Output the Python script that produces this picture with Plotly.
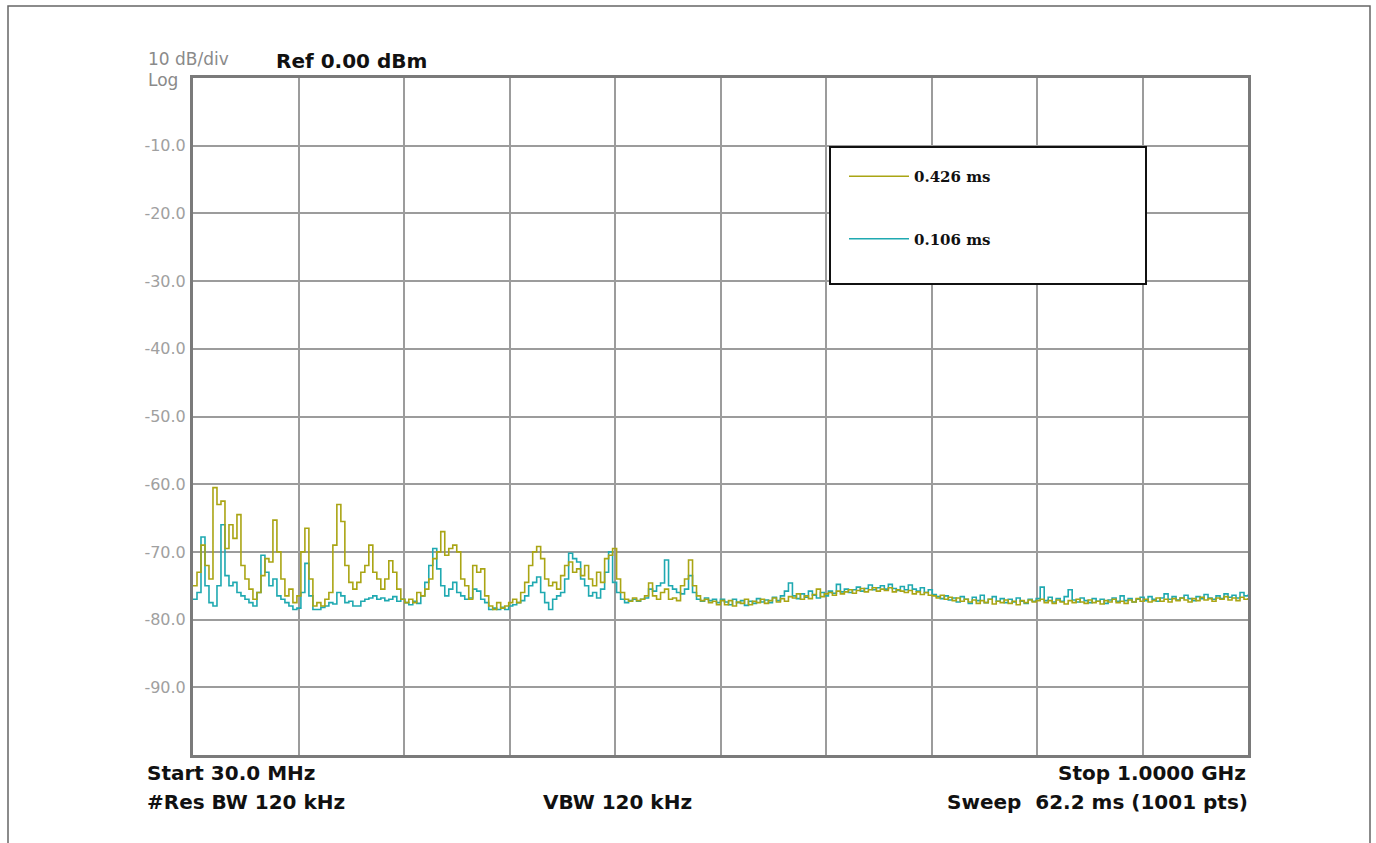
import numpy as np
import plotly.graph_objects as go

START_MHZ = 30.0
STOP_MHZ = 1000.0

# trace levels in dBm left to right (busy part, then flat part)
trace_426 = [
    -75, -73, -69, -72, -74, -60.5, -63, -62.5, -69.5, -66, -68, -64.5, -72, -74, -75.5, -77,
    -76, -73.5, -71, -71.5, -65.3, -70, -74, -76.5, -75.5, -77.5, -76.5, -70, -66.5, -74, -78, -77.5,
    -78, -77, -76, -69, -63, -65.5, -72, -74.5, -75.5, -74.5, -73, -72, -69, -73, -74, -75.5,
    -74, -71.3, -73, -75.5, -77, -77.5, -77, -77.5, -76, -76.5, -75.5, -74, -71, -70, -67, -70.5,
    -69.5, -69, -70, -74, -75, -77, -72, -73, -72.5, -76.5, -78, -78.5, -77.5, -78.3, -78, -77.5,
    -77, -77.5, -76, -74.5, -72, -70, -69.2, -71, -74, -75, -74.5, -75.5, -73.5, -72, -71.5, -73,
    -72.5, -73.5, -72, -74, -75, -73, -74.5, -71, -70.5, -69.5, -74, -76, -77, -77.3, -76.8, -77.2,
    -77, -76.5, -74.6, -76.5, -77, -76, -75.5, -77, -76.8, -77.2, -75, -74, -71.2, -75, -76.5, -77.2,
    -77, -77.5, -77.3, -77.8, -77.2,
    -77.8, -77.2, -78.0, -77.4, -77.6, -77.0, -77.8, -77.3, -77.5, -77.0, -77.6, -77.2, -76.8, -77.4,
    -76.9, -77.3, -76.6,
    -76.8, -76.2, -77.0, -76.5, -76.9, -76.3, -75.5, -76.6, -76.2,
    -76.0, -76.4, -75.8, -76.2, -75.9, -75.6, -76.1, -75.7, -75.4, -75.9, -75.6, -75.3, -75.8, -75.5,
    -75.7, -75.3, -75.9, -75.6, -75.8, -76.0, -75.7, -76.2, -75.9, -76.3, -76.0, -76.4,
    -76.5, -76.8, -76.4, -77.0, -76.7, -77.2, -76.8, -77.3, -77.0, -77.4, -77.1, -77.6, -77.2, -77.5,
    -77.0, -77.7, -77.3, -77.5, -77.1, -77.6, -77.3, -77.8, -77.2, -77.5, -77.1, -77.4, -77.2,
    -77.0, -77.5, -77.2, -77.6, -77.1, -77.4, -77.7, -77.2, -77.5, -77.0, -77.4, -77.6, -77.1, -77.5,
    -77.3, -77.7, -77.2, -77.4, -77.0, -77.5, -77.3, -77.6, -77.1, -77.4, -76.9, -77.3, -77.0, -77.4,
    -77.2, -76.8, -77.3, -77.0, -77.4, -76.9, -77.2, -76.8, -77.1, -77.4, -76.9, -77.2, -76.7, -77.1,
    -76.9, -77.3, -76.8, -77.0, -76.6, -77.1, -76.8, -77.2, -76.7, -77.0, -76.8,
]

trace_106 = [
    -77, -76, -67.8, -75, -77.5, -78, -75, -66, -73.5, -75, -74.5, -76, -76.5, -77, -77.5, -78,
    -76, -70.5, -73, -75, -74, -76.5, -77, -77.5, -78, -78.5, -78.3, -76, -71.7, -76.5, -78.5, -78.5,
    -78.2, -78, -77.5, -77.7, -76, -76.5, -77.5, -77.3, -78, -78, -77.3, -77, -76.8, -76.5, -77, -76.8,
    -77.2, -77, -76.6, -77.3, -77, -77.5, -77.8, -77.3, -77.6, -76.5, -74.5, -72, -69.5, -72.5, -75, -76.5,
    -75.5, -74.5, -76, -76.5, -77, -76.8, -75.5, -75.8, -77, -77.5, -78.5, -78.3, -78.5, -78.2, -78.5, -78,
    -77.8, -77.5, -77.2, -76.5, -75, -74.5, -73.7, -76, -77.5, -78.5, -77, -76.5, -76, -74, -70.2, -71,
    -71.5, -74, -75, -76.5, -76, -76.8, -75.5, -73, -70, -74.5, -76, -77, -77.5, -77.2, -77, -77.3,
    -77, -76.8, -75.5, -75.8, -75, -74.6, -71.2, -75, -75.5, -76, -76.2, -75.5, -73.5, -76, -77, -77.3,
    -76.8, -77.2, -77, -77.5, -77,
    -77.4, -77.8, -77.0, -77.5, -77.2, -77.9, -77.3, -77.6, -76.9, -77.4, -77.1, -77.5, -76.7, -77.2,
    -76.5, -75.8, -74.6,
    -76.5, -76.9, -76.2, -76.7, -75.8, -76.4, -76.8, -76.0, -76.5,
    -75.8, -76.1, -74.8, -75.9, -75.5, -76.0, -75.6, -75.2, -75.8, -75.4, -74.9, -75.6, -75.3, -75.0,
    -75.5, -74.8, -75.4, -75.7, -75.1, -75.6, -74.9, -75.5, -75.8, -75.3, -76.0, -75.6,
    -76.3, -76.6, -76.9, -76.5, -77.1, -76.8, -77.4, -76.6, -77.0, -77.6, -76.7, -77.2, -76.4, -77.5,
    -77.0, -76.6, -77.3, -76.9, -77.5, -77.0, -77.4, -76.8, -77.3, -77.6, -77.0, -77.3, -76.9,
    -75.2, -77.2, -76.7, -77.4, -76.9, -77.3, -76.6, -75.6, -77.1, -77.4, -76.8, -77.2, -77.5, -76.9,
    -77.3, -77.0, -77.6, -77.1, -76.8, -77.3, -76.5, -77.2, -76.9, -77.4, -77.0, -76.7, -77.2, -76.6,
    -77.0, -77.3, -76.8, -76.2, -77.0, -76.6, -77.1, -76.8, -76.4, -76.9, -77.2, -76.6, -76.9, -76.3,
    -76.8, -77.0, -76.5, -76.9, -76.2, -76.7, -76.4, -76.8, -76.0, -76.5, -76.3,
]

y_ticks = [-10, -20, -30, -40, -50, -60, -70, -80, -90]
y_labels = ['-10.0', '-20.0', '-30.0', '-40.0', '-50.0', '-60.0', '-70.0', '-80.0', '-90.0']
x_grid = [127, 224, 321, 418, 515, 612, 709, 806, 903]

# pixel geometry of the screen shot
W, H = 1376, 843
L, R, T, B = 193, 1248, 78, 755


def px(x):
    return (x - L) / (R - L)


def py(y):
    return (B - y) / (B - T)


freq_426 = np.linspace(START_MHZ, STOP_MHZ, len(trace_426))
freq_106 = np.linspace(START_MHZ, STOP_MHZ, len(trace_106))

fig = go.Figure()
fig.add_trace(go.Scatter(x=freq_106, y=trace_106, mode='lines', name='0.106 ms',
                         legendgroup='g2', legendrank=2,
                         line=dict(color='#1fa9b1', width=1.6, shape='hv')))
fig.add_trace(go.Scatter(x=freq_426, y=trace_426, mode='lines', name='0.426 ms',
                         legendgroup='g1', legendrank=1,
                         line=dict(color='#aaa514', width=1.6, shape='hv')))

fig.update_xaxes(range=[START_MHZ, STOP_MHZ], tickvals=x_grid, showticklabels=False, ticks='',
                 showgrid=True, gridcolor='#9c9c9c', gridwidth=1.5, zeroline=False,
                 showline=True, mirror=True, linecolor='#7a7a7a', linewidth=3)
fig.update_yaxes(range=[-100, 0], tickvals=y_ticks, ticktext=y_labels, ticks='',
                 tickfont=dict(family='DejaVu Sans', size=16, color='#a0a0a0'),
                 ticklabelstandoff=1,
                 showgrid=True, gridcolor='#9c9c9c', gridwidth=1.5, zeroline=False,
                 showline=True, mirror=True, linecolor='#7a7a7a', linewidth=3)

bold = dict(family='DejaVu Sans', size=20, color='#111111')
gray = dict(family='DejaVu Sans', size=17, color='#8a8a8a')
annots = [
    ('10 dB/div', 146, 59, 'left', gray),
    ('Log', 146, 80, 'left', gray),
    ('<b>Ref 0.00 dBm</b>', 274, 61, 'left', bold),
    ('<b>Start 30.0 MHz</b>', 145, 773, 'left', bold),
    ('<b>#Res BW 120 kHz</b>', 145, 802, 'left', bold),
    ('<b>VBW 120 kHz</b>', 617, 802, 'center', bold),
    ('<b>Stop 1.0000 GHz</b>', 1248, 773, 'right', bold),
    ('<b>Sweep  62.2 ms (1001 pts)</b>', 1250, 802, 'right', bold),
]
for text, x, y, anchor, font in annots:
    fig.add_annotation(text=text, x=px(x), y=py(y), xref='paper', yref='paper',
                       xanchor=anchor, yanchor='middle', showarrow=False, font=font)

# legend box and outer frame
fig.add_shape(type='rect', xref='paper', yref='paper', layer='above',
              x0=px(830), x1=px(1146), y0=py(284), y1=py(147),
              line=dict(color='#111111', width=2), fillcolor='white')
fig.add_shape(type='rect', xref='paper', yref='paper',
              x0=px(8), x1=px(1370), y0=py(860), y1=py(6),
              line=dict(color='#666666', width=1.5))

fig.update_layout(
    width=W, height=H,
    margin=dict(l=L, r=W - R, t=T, b=H - B),
    paper_bgcolor='white', plot_bgcolor='white',
    showlegend=True,
    legend=dict(x=px(844), y=py(160), xanchor='left', yanchor='top',
                traceorder='grouped', tracegroupgap=40, bgcolor='rgba(0,0,0,0)',
                font=dict(family='DejaVu Serif', size=15, color='#111111', weight='bold'),
                itemwidth=60),
)

# page has no body margin so the figure sits at the window's corner
fig.write_html("out.html", config={'displayModeBar': False},
               post_script="document.body.style.margin='0';")
